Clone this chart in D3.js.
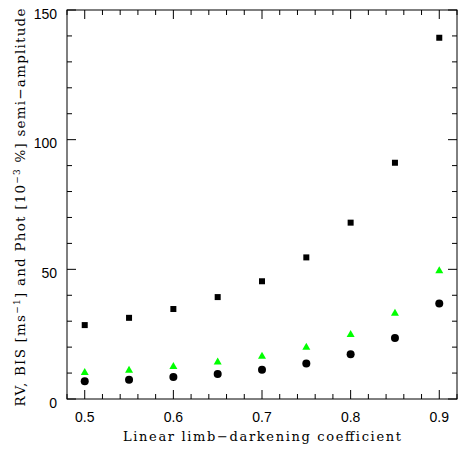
<!DOCTYPE html>
<html>
<head>
<meta charset="utf-8">
<script src="https://cdn.jsdelivr.net/npm/d3@7"></script>
<style>
  body { margin: 0; background: #fff; }
  svg text { fill: #000; }
</style>
</head>
<body>
<svg id="chart" width="463" height="451"></svg>
<script>
// limb-darkening coefficient on the x axis
const coeffs = [0.5, 0.55, 0.6, 0.65, 0.7, 0.75, 0.8, 0.85, 0.9]
// semi-amplitudes
const rvAmp = [28.5, 31.3, 34.7, 39.3, 45.4, 54.6, 68.0, 91.1, 139.3]
const photAmp = [10.4, 11.3, 12.7, 14.5, 16.7, 20.1, 25.1, 33.3, 49.6]
const bisAmp = [6.8, 7.4, 8.5, 9.6, 11.3, 13.7, 17.3, 23.5, 36.8]
const xTicks = [0.5, 0.6, 0.7, 0.8, 0.9]
const yTicks = [0, 50, 100, 150]

const svg = d3.select('#chart')
const plotL = 67, plotR = 457, plotT = 10, plotB = 399

const x = d3.scaleLinear().domain([0.48, 0.92]).range([plotL, plotR])
const y = d3.scaleLinear().domain([0, 150]).range([plotB, plotT])

const xMinor = d3.range(0.48, 0.9201, 0.02).map(d => +d.toFixed(2))
const yMinor = d3.range(0, 151, 10)

let isMajorX = d => xTicks.some(t => Math.abs(t - d) < 1e-6)
let isMajorY = d => yTicks.includes(d)

// frame
svg.append('rect')
  .attr('x', plotL).attr('y', plotT)
  .attr('width', plotR - plotL).attr('height', plotB - plotT)
  .attr('fill', 'none').attr('stroke', '#000').attr('stroke-width', 1)

// inward ticks on all four sides
let tickLen = major => major ? 9 : 5
let g = svg.append('g').attr('stroke', '#000').attr('stroke-width', 1)
xMinor.forEach(d => {
  let l = tickLen(isMajorX(d))
  g.append('line').attr('x1', x(d)).attr('x2', x(d)).attr('y1', plotB).attr('y2', plotB - l)
  g.append('line').attr('x1', x(d)).attr('x2', x(d)).attr('y1', plotT).attr('y2', plotT + l)
})
yMinor.forEach(d => {
  let l = tickLen(isMajorY(d))
  g.append('line').attr('y1', y(d)).attr('y2', y(d)).attr('x1', plotL).attr('x2', plotL + l)
  g.append('line').attr('y1', y(d)).attr('y2', y(d)).attr('x1', plotR).attr('x2', plotR - l)
})

// tick labels
svg.append('g')
  .selectAll('text')
  .data(xTicks)
  .enter()
  .append('text')
  .attr('x', d => x(d))
  .attr('y', 422)
  .attr('text-anchor', 'middle')
  .attr('font-family', 'Liberation Sans, Arial, sans-serif')
  .attr('font-size', 14)
  .text(d => d3.format('.1f')(d))

svg.append('g')
  .selectAll('text')
  .data(yTicks)
  .enter()
  .append('text')
  .attr('x', 57)
  .attr('y', d => y(d) + 8.5)
  .attr('text-anchor', 'end')
  .attr('font-family', 'Liberation Sans, Arial, sans-serif')
  .attr('font-size', 14)
  .text(d => d)

// axis titles
svg.append('text')
  .attr('x', (plotL + plotR) / 2)
  .attr('y', 441)
  .attr('text-anchor', 'middle')
  .attr('font-family', 'DejaVu Serif, serif')
  .attr('font-size', 13)
  .attr('textLength', 278)
  .attr('lengthAdjust', 'spacing')
  .text('Linear limb\u2212darkening coefficient')

let yt = svg.append('text')
  .attr('transform', 'translate(25, 207.5) rotate(-90)')
  .attr('text-anchor', 'middle')
  .attr('font-family', 'DejaVu Serif, serif')
  .attr('font-size', 13.5)
  .attr('textLength', 398)
  .attr('lengthAdjust', 'spacing')
yt.append('tspan').text('RV, BIS [ms')
yt.append('tspan').attr('dy', -5).attr('font-size', 9).text('\u22121')
yt.append('tspan').attr('dy', 5).text('] and Phot [10')
yt.append('tspan').attr('dy', -5).attr('font-size', 9).text('\u22123')
yt.append('tspan').attr('dy', 5).text(' %] semi\u2212amplitude')

// markers
svg.append('g')
  .selectAll('rect')
  .data(coeffs.map((c, i) => [c, rvAmp[i]]))
  .enter()
  .append('rect')
  .attr('x', d => x(d[0]) - 3)
  .attr('y', d => y(d[1]) - 3)
  .attr('width', 6)
  .attr('height', 6)
  .attr('fill', '#000')

svg.append('g')
  .selectAll('path')
  .data(coeffs.map((c, i) => [c, photAmp[i]]))
  .enter()
  .append('path')
  .attr('d', d => {
    let cx = x(d[0]), cy = y(d[1])
    return `M${cx - 4},${cy + 3} L${cx + 4},${cy + 3} L${cx},${cy - 4} Z`
  })
  .attr('fill', '#00ff00')

svg.append('g')
  .selectAll('circle')
  .data(coeffs.map((c, i) => [c, bisAmp[i]]))
  .enter()
  .append('circle')
  .attr('cx', d => x(d[0]))
  .attr('cy', d => y(d[1]))
  .attr('r', 4)
  .attr('fill', '#000')
</script>
</body>
</html>
